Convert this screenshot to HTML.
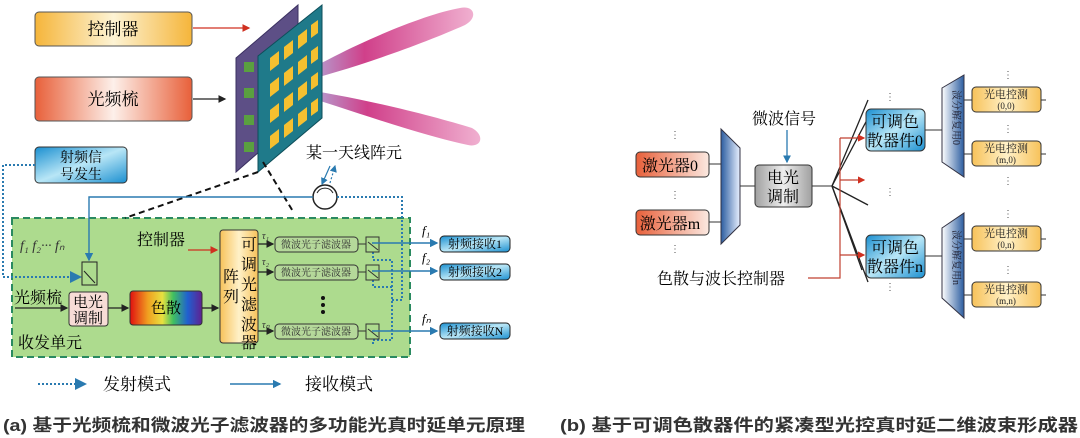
<!DOCTYPE html>
<html><head><meta charset="utf-8"><style>
html,body{margin:0;padding:0;background:#fff;}
svg{display:block;font-family:"Liberation Serif","Noto Serif CJK SC","Noto Sans CJK SC",serif;}
</style></head><body>
<svg width="1080" height="438" viewBox="0 0 1080 438" xmlns="http://www.w3.org/2000/svg">
<defs>
<linearGradient id="gy" x1="0" x2="1"><stop offset="0" stop-color="#f5b53a"/><stop offset="0.5" stop-color="#fdf3d4"/><stop offset="1" stop-color="#f5b53a"/></linearGradient>
<linearGradient id="go" x1="0" x2="1"><stop offset="0" stop-color="#e8603a"/><stop offset="0.5" stop-color="#fdf0ea"/><stop offset="1" stop-color="#e8603a"/></linearGradient>
<linearGradient id="gb" x1="0" x2="1" y1="0" y2="1"><stop offset="0" stop-color="#1a8fd0"/><stop offset="0.5" stop-color="#b8e6f6"/><stop offset="1" stop-color="#1a8fd0"/></linearGradient>
<linearGradient id="gyv" x1="0" x2="1"><stop offset="0" stop-color="#f7c25a"/><stop offset="0.5" stop-color="#fff1c8"/><stop offset="1" stop-color="#f7c25a"/></linearGradient>
<linearGradient id="grain" x1="0" x2="1"><stop offset="0" stop-color="#e01010"/><stop offset="0.25" stop-color="#f0a020"/><stop offset="0.45" stop-color="#e8e040"/><stop offset="0.6" stop-color="#40c060"/><stop offset="0.8" stop-color="#2060d0"/><stop offset="1" stop-color="#602090"/></linearGradient>
<linearGradient id="gg" x1="0" x2="1"><stop offset="0" stop-color="#a0a0a0"/><stop offset="0.5" stop-color="#eeeeee"/><stop offset="1" stop-color="#a0a0a0"/></linearGradient>
<linearGradient id="gor2" x1="0" x2="1"><stop offset="0" stop-color="#e8603a"/><stop offset="1" stop-color="#fbe8e0"/></linearGradient>
<linearGradient id="gpink" x1="0" x2="1"><stop offset="0" stop-color="#a8c8f0"/><stop offset="0.4" stop-color="#d0408a"/><stop offset="1" stop-color="#f0b0d0"/></linearGradient>
<linearGradient id="gmux" x1="0" x2="1"><stop offset="0" stop-color="#fff"/><stop offset="1" stop-color="#2c5da0"/></linearGradient>
<linearGradient id="gmux2" x1="0" x2="1"><stop offset="0" stop-color="#2c5da0"/><stop offset="1" stop-color="#e8f0ff"/></linearGradient>
<marker id="ab" markerWidth="6" markerHeight="6" refX="5" refY="3" orient="auto"><path d="M0,0 L6,3 L0,6z" fill="#222"/></marker>
<marker id="ar" markerWidth="6" markerHeight="6" refX="5" refY="3" orient="auto"><path d="M0,0 L6,3 L0,6z" fill="#d03020"/></marker>
<marker id="au" markerWidth="6" markerHeight="6" refX="5" refY="3" orient="auto"><path d="M0,0 L6,3 L0,6z" fill="#2a7ab0"/></marker>
</defs>

<rect x="35" y="12" width="157" height="34" rx="4" fill="url(#gy)" stroke="#555"/>
<text x="113" y="35" font-size="17" text-anchor="middle">控制器</text>
<line x1="193" y1="28" x2="249" y2="28" stroke="#d03020" stroke-width="1.3" marker-end="url(#ar)"/>
<rect x="35" y="77" width="157" height="44" rx="4" fill="url(#go)" stroke="#555"/>
<text x="113" y="105" font-size="17" text-anchor="middle">光频梳</text>
<line x1="193" y1="99" x2="225" y2="99" stroke="#222" stroke-width="1.3" marker-end="url(#ab)"/>

<path d="M292,80 C340,50 420,15 460,8 C475,5 478,18 465,25 C420,45 350,70 292,84z" fill="url(#gpink)"/>
<path d="M292,88 C350,95 430,115 472,128 C485,135 482,148 468,145 C420,135 350,110 292,92z" fill="url(#gpink)"/>

<polygon points="236,58 298,5 298,118 236,172" fill="#5d4f86" stroke="#3a3060"/>
<g fill="#5aa040"><rect x="244" y="62" width="10" height="10"/><rect x="244" y="88" width="10" height="10"/><rect x="244" y="115" width="10" height="10"/><rect x="244" y="142" width="10" height="10"/></g>
<polygon points="258,56 322,5 322,118 258,172" fill="#1f7a8a" stroke="#0d4e5a"/>
<g fill="#f5c030">
<polygon points="270,58 279,51 279,64 270,71"/><polygon points="284,47 293,40 293,53 284,60"/><polygon points="298,36 307,29 307,42 298,49"/><polygon points="311,25 318,20 318,33 311,38"/>
<polygon points="270,84 279,77 279,90 270,97"/><polygon points="284,73 293,66 293,79 284,86"/><polygon points="298,62 307,55 307,68 298,75"/><polygon points="311,51 318,46 318,59 311,64"/>
<polygon points="270,110 279,103 279,116 270,123"/><polygon points="284,99 293,92 293,105 284,112"/><polygon points="298,88 307,81 307,94 298,101"/><polygon points="311,77 318,72 318,85 311,90"/>
<polygon points="270,136 279,129 279,142 270,149"/><polygon points="284,125 293,118 293,131 284,138"/><polygon points="298,114 307,107 307,120 298,127"/><polygon points="311,103 318,98 318,111 311,116"/>
</g>
<text x="306" y="158" font-size="16">某一天线阵元</text>

<rect x="35" y="147" width="92" height="36" rx="4" fill="url(#gb)" stroke="#333"/>
<text x="81" y="162" font-size="14" text-anchor="middle">射频信</text>
<text x="81" y="179" font-size="14" text-anchor="middle">号发生</text>

<rect x="12" y="218" width="398" height="139" fill="#addb8e" stroke="#2a8a60" stroke-width="2" stroke-dasharray="7,4"/>
<line x1="258" y1="172" x2="125" y2="218" stroke="#111" stroke-width="2" stroke-dasharray="6,4"/>
<line x1="263" y1="162" x2="294" y2="213" stroke="#111" stroke-width="2" stroke-dasharray="6,4"/>

<circle cx="325" cy="197" r="12" fill="#fff" stroke="#222" stroke-width="1.5"/>
<path d="M317,193 A9,9 0 0 1 333,193" fill="none" stroke="#222"/>
<line x1="330" y1="183" x2="335" y2="166" stroke="#2a7ab0" stroke-width="1.2" stroke-dasharray="2,2" marker-end="url(#au)"/>
<line x1="330" y1="166" x2="322" y2="184" stroke="#2a7ab0" stroke-width="1.2" marker-end="url(#au)"/>

<polyline points="313,197 89,197 89,260" fill="none" stroke="#2a7ab0" stroke-width="1.4" marker-end="url(#au)"/>
<polyline points="35,165 3,165 3,277 80,277" fill="none" stroke="#2a7ab0" stroke-width="2" stroke-dasharray="2,2" marker-end="url(#au)"/>
<polyline points="337,197 402,197 402,300 392,300" fill="none" stroke="#2a7ab0" stroke-width="2" stroke-dasharray="2,2"/>
<polyline points="373,252 373,260 392,260 392,340 373,340 373,345" fill="none" stroke="#2a7ab0" stroke-width="2" stroke-dasharray="2,2"/>
<polyline points="373,280 373,287 392,287" fill="none" stroke="#2a7ab0" stroke-width="2" stroke-dasharray="2,2"/>

<rect x="82" y="262" width="15" height="23" fill="none" stroke="#222"/>
<line x1="84" y1="271" x2="95" y2="283" stroke="#222"/>
<text x="20" y="250" font-size="14" font-style="italic" fill="#333">f₁ f₂··· fₙ</text>

<text x="14" y="303" font-size="16">光频梳</text>
<line x1="15" y1="308" x2="67" y2="308" stroke="#222" stroke-width="1.3" marker-end="url(#ab)"/>
<rect x="69" y="292" width="39" height="34" rx="3" fill="#f7dcd6" stroke="#333"/>
<text x="88" y="307" font-size="15" text-anchor="middle">电光</text>
<text x="88" y="323" font-size="15" text-anchor="middle">调制</text>
<line x1="108" y1="308" x2="128" y2="308" stroke="#222" stroke-width="1.3" marker-end="url(#ab)"/>
<rect x="130" y="291" width="72" height="34" rx="3" fill="url(#grain)" stroke="#333"/>
<text x="166" y="313" font-size="15" text-anchor="middle">色散</text>
<line x1="202" y1="308" x2="218" y2="308" stroke="#222" stroke-width="1.3" marker-end="url(#ab)"/>
<rect x="220" y="230" width="38" height="113" rx="3" fill="url(#gyv)" stroke="#333"/>
<g font-size="16"><text x="249" y="250" text-anchor="middle">可</text><text x="249" y="270" text-anchor="middle">调</text><text x="249" y="290" text-anchor="middle">光</text><text x="249" y="310" text-anchor="middle">滤</text><text x="249" y="330" text-anchor="middle">波</text><text x="249" y="348" text-anchor="middle">器</text>
<text x="231" y="282" text-anchor="middle">阵</text><text x="231" y="302" text-anchor="middle">列</text></g>
<text x="137" y="245" font-size="16">控制器</text>
<line x1="188" y1="250" x2="217" y2="250" stroke="#d03020" stroke-width="1.3" marker-end="url(#ar)"/>

<g font-size="10" fill="#333">
<text x="262" y="239" font-style="italic">τ₁</text><text x="262" y="265" font-style="italic">τ₂</text><text x="262" y="328" font-style="italic">τₙ</text>
</g>
<g stroke="#222" stroke-width="1.3">
<line x1="258" y1="244" x2="273" y2="244" marker-end="url(#ab)"/>
<line x1="258" y1="272" x2="273" y2="272" marker-end="url(#ab)"/>
<line x1="258" y1="331" x2="273" y2="331" marker-end="url(#ab)"/>
</g>
<g fill="#b5d89a" stroke="#333">
<rect x="275" y="237" width="83" height="15" rx="4"/><rect x="275" y="265" width="83" height="15" rx="4"/><rect x="275" y="324" width="83" height="15" rx="4"/>
</g>
<g font-size="10" text-anchor="middle" fill="#333"><text x="316" y="248">微波光子滤波器</text><text x="316" y="276">微波光子滤波器</text><text x="316" y="335">微波光子滤波器</text></g>
<g fill="#111"><circle cx="323" cy="298" r="2"/><circle cx="323" cy="305" r="2"/><circle cx="323" cy="312" r="2"/></g>
<g stroke="#333" fill="none">
<line x1="358" y1="244" x2="366" y2="244"/><line x1="358" y1="272" x2="366" y2="272"/><line x1="358" y1="331" x2="366" y2="331"/>
<rect x="366" y="237" width="13" height="15"/><rect x="366" y="265" width="13" height="15"/><rect x="366" y="324" width="13" height="15"/>
<line x1="368" y1="242" x2="378" y2="250"/><line x1="368" y1="270" x2="378" y2="278"/><line x1="368" y1="329" x2="378" y2="337"/>
</g>
<g stroke="#2a7ab0" stroke-width="1.4">
<line x1="372" y1="243" x2="437" y2="243" marker-end="url(#au)"/>
<line x1="372" y1="271" x2="437" y2="271" marker-end="url(#au)"/>
<line x1="372" y1="331" x2="437" y2="331" marker-end="url(#au)"/>
</g>
<g font-size="13" font-style="italic"><text x="422" y="235">f₁</text><text x="422" y="262">f₂</text><text x="422" y="323">fₙ</text></g>
<g fill="url(#gb)" stroke="#222">
<rect x="440" y="236" width="70" height="16" rx="4"/><rect x="440" y="264" width="70" height="16" rx="4"/><rect x="440" y="323" width="70" height="16" rx="4"/>
</g>
<g font-size="12" text-anchor="middle"><text x="475" y="248">射频接收1</text><text x="475" y="276">射频接收2</text><text x="475" y="335">射频接收N</text></g>
<text x="18" y="348" font-size="16">收发单元</text>

<line x1="38" y1="384" x2="85" y2="384" stroke="#2a7ab0" stroke-width="2" stroke-dasharray="2,2" marker-end="url(#au)"/>
<text x="103" y="390" font-size="17">发射模式</text>
<line x1="230" y1="384" x2="280" y2="384" stroke="#2a7ab0" stroke-width="1.4" marker-end="url(#au)"/>
<text x="305" y="390" font-size="17">接收模式</text>

<g font-family="Liberation Sans,Noto Sans CJK SC,sans-serif" font-size="17" font-weight="bold" fill="#333">
<text x="3" y="431" textLength="522" lengthAdjust="spacingAndGlyphs">(a) 基于光频梳和微波光子滤波器的多功能光真时延单元原理</text>
<text x="560" y="431" textLength="518" lengthAdjust="spacingAndGlyphs">(b) 基于可调色散器件的紧凑型光控真时延二维波束形成器</text>
</g>

<g fill="#555" font-size="10"><text x="670" y="138">⋮</text><text x="670" y="198">⋮</text><text x="670" y="252">⋮</text></g>
<rect x="636" y="152" width="73" height="25" rx="4" fill="url(#gor2)" stroke="#333"/>
<text x="670" y="171" font-size="16" text-anchor="middle">激光器0</text>
<rect x="636" y="210" width="73" height="25" rx="4" fill="url(#gor2)" stroke="#333"/>
<text x="670" y="229" font-size="16" text-anchor="middle">激光器m</text>
<line x1="709" y1="164" x2="721" y2="164" stroke="#333"/>
<line x1="709" y1="222" x2="721" y2="222" stroke="#333"/>
<polygon points="721,129 740,148 740,225 721,244" fill="url(#gmux2)" stroke="#334"/>
<line x1="740" y1="186" x2="755" y2="186" stroke="#333"/>
<text x="752" y="124" font-size="16">微波信号</text>
<line x1="787" y1="130" x2="787" y2="162" stroke="#2a7ab0" stroke-width="1.3" marker-end="url(#au)"/>
<rect x="755" y="165" width="57" height="42" rx="4" fill="url(#gg)" stroke="#333"/>
<text x="783" y="183" font-size="16" text-anchor="middle">电光</text>
<text x="783" y="202" font-size="16" text-anchor="middle">调制</text>
<line x1="812" y1="186" x2="832" y2="186" stroke="#333"/>
<g stroke="#222" stroke-width="1.3">
<line x1="832" y1="186" x2="868" y2="100"/><line x1="832" y1="186" x2="868" y2="118"/>
<line x1="832" y1="186" x2="868" y2="205"/><line x1="832" y1="186" x2="868" y2="282"/><line x1="832" y1="186" x2="862" y2="270"/>
</g>
<text x="657" y="284" font-size="16">色散与波长控制器</text>
<polyline points="808,278 840,278 840,138" fill="none" stroke="#c04030" stroke-width="1.2"/>
<g stroke="#c04030" stroke-width="1.2">
<line x1="840" y1="138" x2="864" y2="138" marker-end="url(#ar)"/>
<line x1="840" y1="180" x2="864" y2="180" marker-end="url(#ar)"/>
<line x1="840" y1="255" x2="864" y2="255" marker-end="url(#ar)"/>
</g>
<g fill="#555" font-size="10"><text x="885" y="100">⋮</text><text x="885" y="195">⋮</text><text x="885" y="290">⋮</text></g>
<rect x="866" y="109" width="59" height="42" rx="5" fill="url(#gb)" stroke="#333"/>
<text x="895" y="127" font-size="16" text-anchor="middle">可调色</text>
<text x="895" y="146" font-size="16" text-anchor="middle">散器件0</text>
<rect x="866" y="235" width="59" height="43" rx="5" fill="url(#gb)" stroke="#333"/>
<text x="895" y="253" font-size="16" text-anchor="middle">可调色</text>
<text x="895" y="272" font-size="16" text-anchor="middle">散器件n</text>
<line x1="925" y1="130" x2="942" y2="130" stroke="#333"/>
<line x1="925" y1="256" x2="942" y2="256" stroke="#333"/>
<polygon points="942,88 964,75 964,177 942,162" fill="url(#gmux)" stroke="#334"/>
<polygon points="942,228 964,213 964,318 942,298" fill="url(#gmux)" stroke="#334"/>
<text transform="translate(953,90) rotate(90)" font-size="10" fill="#223">波分解复用0</text>
<text transform="translate(953,230) rotate(90)" font-size="10" fill="#223">波分解复用n</text>
<g stroke="#333"><line x1="964" y1="100" x2="972" y2="100"/><line x1="964" y1="154" x2="972" y2="154"/><line x1="964" y1="239" x2="972" y2="239"/><line x1="964" y1="295" x2="972" y2="295"/>
<line x1="1041" y1="100" x2="1046" y2="100"/><line x1="1041" y1="154" x2="1046" y2="154"/><line x1="1041" y1="239" x2="1046" y2="239"/><line x1="1041" y1="295" x2="1046" y2="295"/></g>
<g fill="url(#gyv)" stroke="#333">
<rect x="972" y="87" width="69" height="25" rx="4"/><rect x="972" y="141" width="69" height="25" rx="4"/><rect x="972" y="226" width="69" height="25" rx="4"/><rect x="972" y="282" width="69" height="25" rx="4"/>
</g>
<g font-size="11" text-anchor="middle" fill="#222">
<text x="1006" y="98">光电控测</text><text x="1006" y="109" font-size="9">(0,0)</text>
<text x="1006" y="152">光电控测</text><text x="1006" y="163" font-size="9">(m,0)</text>
<text x="1006" y="237">光电控测</text><text x="1006" y="248" font-size="9">(0,n)</text>
<text x="1006" y="293">光电控测</text><text x="1006" y="304" font-size="9">(m,n)</text>
</g>
<g fill="#555" font-size="10"><text x="1003" y="78">⋮</text><text x="1003" y="132">⋮</text><text x="1003" y="184">⋮</text><text x="1003" y="217">⋮</text><text x="1003" y="273">⋮</text></g>
</svg>
</body></html>
